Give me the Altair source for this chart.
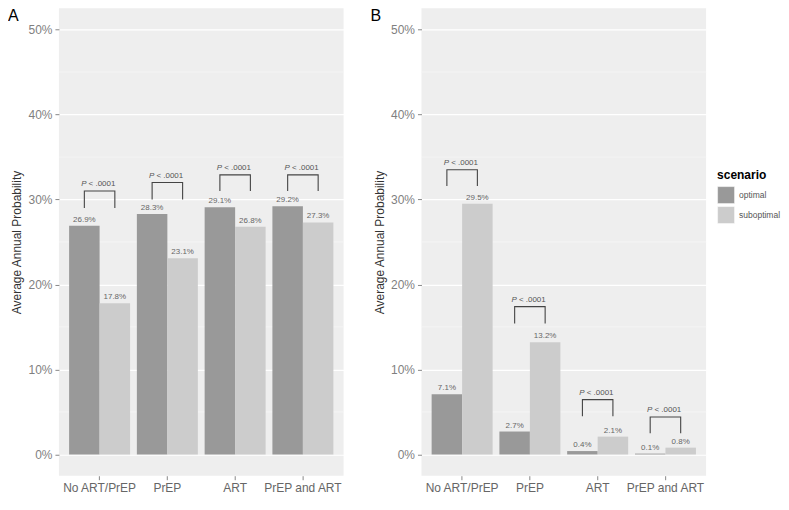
import altair as alt
import pandas as pd

categories = ["No ART/PrEP", "PrEP", "ART", "PrEP and ART"]
scenarios = ["optimal", "suboptimal"]
fill_colors = ["#999999", "#cccccc"]

a_optimal = [26.9, 28.3, 29.1, 29.2]
a_suboptimal = [17.8, 23.1, 26.8, 27.3]
b_optimal = [7.1, 2.7, 0.4, 0.1]
b_suboptimal = [29.5, 13.2, 2.1, 0.8]

# bracket leg bottoms and tops (percent)
a_bracket_low = [29.0, 30.0, 31.0, 31.0]
a_bracket_high = [31.0, 32.0, 32.9, 32.9]
b_bracket_low = [31.6, 15.4, 4.5, 2.5]
b_bracket_high = [33.5, 17.4, 6.45, 4.4]

p_text = "< .0001"
y_ticks = [0, 10, 20, 30, 40, 50]
minor_ticks = [5, 15, 25, 35, 45]
y_domain = [-2.5, 52.5]

PW, PH = 285, 468
FONT = "Liberation Sans"


def make_panel(letter, opt, sub, lo, hi):
    bars = pd.DataFrame({
        "category": categories * 2,
        "scenario": ["optimal"] * len(categories) + ["suboptimal"] * len(categories),
        "value": opt + sub,
    })
    bars["label"] = bars["value"].map(lambda v: f"{v:.1f}%")

    rows = []
    for c, l, h in zip(categories, lo, hi):
        rows += [
            dict(category=c, scenario="optimal", value=l, order=0),
            dict(category=c, scenario="optimal", value=h, order=1),
            dict(category=c, scenario="suboptimal", value=h, order=2),
            dict(category=c, scenario="suboptimal", value=l, order=3),
        ]
    brackets = pd.DataFrame(rows)
    tops = pd.DataFrame({"category": categories, "top": hi})

    x = alt.X(
        "category:N", sort=categories,
        scale=alt.Scale(paddingInner=0.1, paddingOuter=0.15),
        axis=alt.Axis(title=None, labelAngle=0, labelFontSize=12, labelColor="#666666",
                      tickColor="#888888", tickSize=4, labelPadding=3, domain=False,
                      grid=False),
    )
    xo = alt.XOffset("scenario:N", sort=scenarios,
                     scale=alt.Scale(paddingInner=0, paddingOuter=0))
    yscale = alt.Scale(domain=y_domain, nice=False, zero=False)
    yaxis = alt.Axis(
        title="Average Annual Probability", values=y_ticks,
        labelExpr="datum.value + '%'", labelFontSize=12, labelColor="#7f7f7f",
        tickColor="#888888", tickSize=4, labelPadding=3, domain=False,
        grid=True, gridColor="white", gridWidth=1.2,
        titleFontSize=12, titleColor="#333333", titleFontWeight="normal",
        titlePadding=4,
    )

    minor = alt.Chart(pd.DataFrame({"v": minor_ticks})).mark_rule(
        color="#f6f6f6", strokeWidth=0.8
    ).encode(y=alt.Y("v:Q", scale=yscale, axis=yaxis))

    bar = alt.Chart(bars).mark_bar().encode(
        x=x, xOffset=xo,
        y=alt.Y("value:Q", scale=yscale, axis=yaxis),
        y2=alt.datum(0),
        color=alt.Color(
            "scenario:N",
            scale=alt.Scale(domain=scenarios, range=fill_colors),
            legend=alt.Legend(
                title="scenario", orient="none", legendX=659, legendY=162,
                symbolType="square", symbolSize=289, symbolStrokeWidth=0.5,
                symbolStrokeColor="white", symbolOpacity=1,
                titleFontSize=12, titleFontWeight="bold", titleColor="black",
                titlePadding=4, labelFontSize=8.5, labelColor="#555555",
                labelOffset=4, rowPadding=0,
            ),
        ),
    )

    labels = alt.Chart(bars).mark_text(
        baseline="bottom", dy=-2, fontSize=8, color="#666666"
    ).encode(x=x, xOffset=xo, y=alt.Y("value:Q", scale=yscale, axis=yaxis),
             text="label:N")

    line = alt.Chart(brackets).mark_line(color="#444444", strokeWidth=1.1).encode(
        x=x, xOffset=xo, y=alt.Y("value:Q", scale=yscale, axis=yaxis),
        detail="category:N", order="order:Q",
    )

    p1 = alt.Chart(tops).mark_text(
        text="P", fontStyle="italic", align="right", baseline="bottom",
        dx=-13, dy=-3, fontSize=8, color="#555555",
    ).encode(x=x, y=alt.Y("top:Q", scale=yscale, axis=yaxis))
    p2 = alt.Chart(tops).mark_text(
        text=p_text, align="left", baseline="bottom",
        dx=-11, dy=-3, fontSize=8, color="#555555",
    ).encode(x=x, y=alt.Y("top:Q", scale=yscale, axis=yaxis))

    tag = alt.Chart(pd.DataFrame({"t": [letter]})).mark_text(
        align="left", baseline="top", fontSize=16, color="black"
    ).encode(x=alt.value(-51), y=alt.value(0), text="t:N")

    return alt.layer(minor, bar, labels, line, p1, p2, tag).properties(width=PW, height=PH)


panel_a = make_panel("A", a_optimal, a_suboptimal, a_bracket_low, a_bracket_high)
panel_b = make_panel("B", b_optimal, b_suboptimal, b_bracket_low, b_bracket_high)

chart = alt.hconcat(panel_a, panel_b, spacing=26).properties(padding=0).configure(
    font=FONT
).configure_view(fill="#eeeeee", stroke=None)

chart.save("out.html", embed_options={"renderer": "svg", "actions": False})
